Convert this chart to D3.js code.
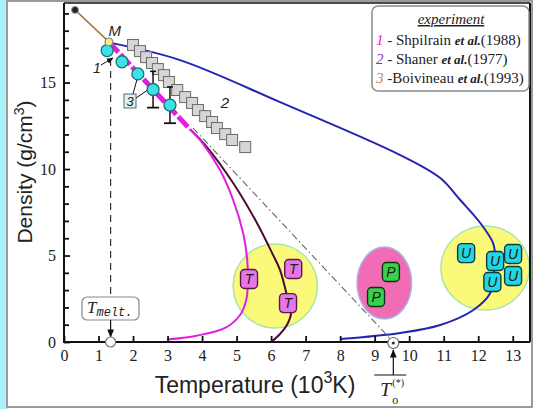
<!DOCTYPE html>
<html><head><meta charset="utf-8">
<script src="https://cdn.jsdelivr.net/npm/d3@7"></script>
<style>
html,body{margin:0;padding:0;background:#fff;}
svg{display:block;}
</style></head><body>
<svg id="chart" width="534" height="409"></svg>
<script>
// Uranium phase diagram: temperature (10^3 K) vs density (g/cm^3)
const xTickValues = [0,1,2,3,4,5,6,7,8,9,10,11,12,13];
const yTickValues = [0,5,10,15];
const yMinorTickValues = [1,2,3,4,6,7,8,9,11,12,13,14,16,17,18,19];

const solidPoint = [0.32, 19.2];
const meltPoint = [1.3, 17.35];
const meltTemperature = 1.35;
const starTemperature = 9.54;

// binodal curves
const blueBinodal = [[1.39,17.28],[3.36,16.30],[6.26,13.87],[9.74,10.81],[10.90,9.48],[11.48,8.21],
  [12.06,6.88],[12.43,5.72],[12.49,4.97],[12.46,4.05],[12.35,2.83],[11.86,1.85],[10.90,0.98],[9.74,0.52],[8.00,0.17]];
const liquidBranch = [[1.3,17.35],[3.65,12.3]];
const magentaBinodal = [[3.65,12.3],[3.94,11.68],[4.52,9.94],[4.90,8.21],[5.19,6.30],[5.30,4.91],[5.33,3.58],
  [5.28,2.43],[5.10,1.56],[4.67,0.81],[3.80,0.35],[3.00,0.15]];
const darkBinodal = [[3.65,12.3],[4.14,11.27],[4.90,9.19],[5.59,6.88],[6.03,5.14],[6.26,4.16],[6.49,2.43],
  [6.58,1.70],[6.44,0.92],[6.25,0.45],[6.03,0.05]];
const dashDotLine = [[3.74,12.37],[starTemperature,0]];

// experiments
const expShpilrain = [[1.25,16.85],[1.68,16.2],[2.14,15.5],[2.58,14.6],[3.07,13.7]];
const expShpilrainError = [0,0,0,1.05,1.05];
const expShaner = [[2.00,17.17],[2.20,16.82],[2.38,16.47],[2.55,16.13],[2.72,15.78],[2.90,15.43],[3.04,15.03],
  [3.28,14.57],[3.51,14.16],[3.71,13.82],[3.88,13.41],[4.09,13.06],[4.29,12.72],[4.43,12.37],[4.67,12.02],[4.87,11.68],[5.25,11.27]];

// critical point estimates
const criticalT = [[5.36,3.64],[6.64,4.22],[6.49,2.25]];
const criticalP = [[9.47,4.05],[9.04,2.6]];
const criticalU = [[11.65,5.14],[12.49,4.68],[13.01,5.09],[12.41,3.47],[13.01,3.82]];
// regions: [T centre, rho centre, T half-width, rho half-height]
const regionT = [6.12,3.24,1.22,2.43];
const regionP = [9.28,3.41,0.79,2.08];
const regionU = [12.2,4.28,1.28,2.43];

const legendTitle = "experiment";
const legendRows = [
  {num:"1", author:" - Shpilrain ", year:"(1988)"},
  {num:"2", author:" - Shaner  ", year:"(1977)"},
  {num:"3", author:" -Boivineau ", year:"(1993)"}
];

const SERIF = "'Liberation Serif','Times New Roman',serif";
const SANS = "'Liberation Sans',Arial,sans-serif";
const MONO = "'Liberation Mono','Courier New',monospace";

const svg = d3.select("#chart");
const W = 534, H = 409;
const plot = {left:64, right:530, top:3, bottom:342};
const x = d3.scaleLinear().domain([0,13.5]).range([plot.left, plot.right]);
const y = d3.scaleLinear().domain([0,19.6]).range([plot.bottom, plot.top]);

// page frame
svg.append("rect").attr("x",0).attr("y",0).attr("width",W).attr("height",H).attr("fill","#fff");
svg.append("rect").attr("x",0).attr("y",0).attr("width",8).attr("height",H).attr("fill","#a9f1f9");
svg.append("rect").attr("x",7).attr("y",1).attr("width",525).attr("height",406)
  .attr("fill","#fff").attr("stroke","#9a9a9a").attr("stroke-width",2);

const defs = svg.append("defs");
defs.append("clipPath").attr("id","plotClip").append("rect")
  .attr("x",plot.left).attr("y",plot.top).attr("width",plot.right-plot.left).attr("height",plot.bottom-plot.top);
defs.append("marker").attr("id","arrowHead").attr("viewBox","0 0 10 10").attr("refX",9).attr("refY",5)
  .attr("markerWidth",7).attr("markerHeight",7).attr("orient","auto")
  .append("path").attr("d","M0,1 L10,5 L0,9 Z").attr("fill","#111");

const g = svg.append("g").attr("clip-path","url(#plotClip)");

// regions of critical point estimates
const regions = [
  {r:regionT, fill:"#fbf97a", stroke:"#a8e6a8"},
  {r:regionP, fill:"#f06cb4", stroke:"#a8b4e4"},
  {r:regionU, fill:"#fbf97a", stroke:"#a8e6a8"}
];
regions.forEach(d => {
  g.append("ellipse").attr("cx",x(d.r[0])).attr("cy",y(d.r[1]))
    .attr("rx",x(d.r[0]+d.r[2])-x(d.r[0])).attr("ry",y(d.r[1])-y(d.r[1]+d.r[3]))
    .attr("fill",d.fill).attr("stroke",d.stroke).attr("stroke-width",1.5);
});

const line = d3.line().x(d=>x(d[0])).y(d=>y(d[1]));
const smooth = d3.line().x(d=>x(d[0])).y(d=>y(d[1])).curve(d3.curveCatmullRom.alpha(0.5));

// solid branch up to the melting point
g.append("path").attr("d",line([solidPoint, meltPoint])).attr("fill","none")
  .attr("stroke","#a8783c").attr("stroke-width",1.5);

// melting temperature guide
g.append("line").attr("x1",x(meltTemperature)).attr("x2",x(meltTemperature))
  .attr("y1",y(meltPoint[1])+5).attr("y2",296)
  .attr("stroke","#333").attr("stroke-width",1.2).attr("stroke-dasharray","7,5");

g.append("path").attr("d",smooth(blueBinodal)).attr("fill","none").attr("stroke","#2424b4").attr("stroke-width",2);
g.append("path").attr("d",line(dashDotLine)).attr("fill","none").attr("stroke","#666")
  .attr("stroke-width",1.1).attr("stroke-dasharray","7,3,1.5,3");
g.append("path").attr("d",smooth(darkBinodal)).attr("fill","none").attr("stroke","#4a0c34").attr("stroke-width",2);
g.append("path").attr("d",smooth(magentaBinodal)).attr("fill","none").attr("stroke","#e21ee2").attr("stroke-width",2);
g.append("path").attr("d",line(liquidBranch)).attr("fill","none").attr("stroke","#e21ee2")
  .attr("stroke-width",5).attr("stroke-dasharray","14,3");

// Shaner et al. points
g.selectAll("rect.shaner").data(expShaner).enter().append("rect").attr("class","shaner")
  .attr("x",d=>x(d[0])-5.5).attr("y",d=>y(d[1])-5.5).attr("width",11).attr("height",11)
  .attr("fill","#d6d6d6").attr("stroke","#6a6a6a").attr("stroke-width",1);

// error bars
expShpilrain.forEach((d,i) => {
  const e = expShpilrainError[i];
  if (!e) return;
  const cx = x(d[0]);
  g.append("line").attr("x1",cx).attr("x2",cx).attr("y1",y(d[1]+e)).attr("y2",y(d[1]-e))
    .attr("stroke","#111").attr("stroke-width",1.5);
  g.append("line").attr("x1",cx-3).attr("x2",cx+3).attr("y1",y(d[1]+e)).attr("y2",y(d[1]+e))
    .attr("stroke","#111").attr("stroke-width",1.5);
  g.append("line").attr("x1",cx-6).attr("x2",cx+6).attr("y1",y(d[1]-e)).attr("y2",y(d[1]-e))
    .attr("stroke","#111").attr("stroke-width",1.8);
});
g.selectAll("circle.shp").data(expShpilrain).enter().append("circle").attr("class","shp")
  .attr("cx",d=>x(d[0])).attr("cy",d=>y(d[1])).attr("r",6)
  .attr("fill","#3ee2e6").attr("stroke","#1d6e7c").attr("stroke-width",1.3);

// end points
g.append("circle").attr("cx",x(solidPoint[0])).attr("cy",y(solidPoint[1])).attr("r",3.5)
  .attr("fill","#222").attr("stroke","#999").attr("stroke-width",1);
g.append("circle").attr("cx",x(meltPoint[0])).attr("cy",y(meltPoint[1])).attr("r",4)
  .attr("fill","#f4f080").attr("stroke","#777").attr("stroke-width",1);

// critical point boxes
function letterBoxes(data, letter, fill, stroke) {
  const b = g.append("g");
  data.forEach(d => {
    const cx = x(d[0]), cy = y(d[1]);
    b.append("rect").attr("x",cx-8.5).attr("y",cy-9.5).attr("width",17).attr("height",19).attr("rx",4)
      .attr("fill",fill).attr("stroke",stroke).attr("stroke-width",1.4);
    b.append("text").attr("x",cx).attr("y",cy+5).attr("text-anchor","middle")
      .attr("font-family",SANS).attr("font-style","italic").attr("font-size",14)
      .attr("fill","#1a1a1a").text(letter);
  });
}
letterBoxes(criticalT, "T", "#e676e6", "#5a1a4a");
letterBoxes(criticalP, "P", "#38d24a", "#123016");
letterBoxes(criticalU, "U", "#22d6e2", "#0e3a40");

// annotations
svg.append("text").attr("x",x(meltPoint[0])+6).attr("y",y(meltPoint[1])-6).attr("text-anchor","middle")
  .attr("font-family",SANS).attr("font-style","italic").attr("font-size",15).attr("fill","#222").text("M");
svg.append("text").attr("x",97).attr("y",73).attr("text-anchor","middle")
  .attr("font-family",SANS).attr("font-style","italic").attr("font-size",14).attr("fill","#222").text("1");
svg.append("line").attr("x1",101).attr("y1",65).attr("x2",113).attr("y2",58)
  .attr("stroke","#111").attr("stroke-width",1).attr("marker-end","url(#arrowHead)");
svg.append("text").attr("x",225).attr("y",108).attr("text-anchor","middle")
  .attr("font-family",SANS).attr("font-style","italic").attr("font-size",15).attr("fill","#222").text("2");
svg.append("rect").attr("x",124).attr("y",94).attr("width",12).attr("height",14)
  .attr("fill","#dcf4ec").attr("stroke","#667").attr("stroke-width",1);
svg.append("text").attr("x",130).attr("y",106).attr("text-anchor","middle")
  .attr("font-family",SANS).attr("font-style","italic").attr("font-size",13).attr("fill","#222").text("3");
svg.append("line").attr("x1",133).attr("y1",94).attr("x2",x(expShpilrain[2][0])-1).attr("y2",y(expShpilrain[2][1])+6)
  .attr("stroke","#111").attr("stroke-width",1);
svg.append("line").attr("x1",136).attr("y1",98).attr("x2",x(expShpilrain[3][0])-6).attr("y2",y(expShpilrain[3][1])+1)
  .attr("stroke","#111").attr("stroke-width",1);

// melting temperature label
svg.append("rect").attr("x",82).attr("y",297).attr("width",57).attr("height",23).attr("rx",5)
  .attr("fill","#fff").attr("stroke","#888").attr("stroke-width",1.2);
const tm = svg.append("text").attr("x",87).attr("y",313).attr("fill","#222");
tm.append("tspan").attr("font-family",SERIF).attr("font-style","italic").attr("font-size",17).text("T");
tm.append("tspan").attr("font-family",MONO).attr("font-style","italic").attr("font-size",12).attr("dy",3).text("melt.");
svg.append("line").attr("x1",x(meltTemperature)).attr("x2",x(meltTemperature)).attr("y1",320).attr("y2",337)
  .attr("stroke","#111").attr("stroke-width",1.2).attr("marker-end","url(#arrowHead)");

// axes
const xAxis = d3.axisBottom(x).tickValues(xTickValues).tickSizeInner(-6).tickSizeOuter(0).tickPadding(8).tickFormat(d3.format("d"));
const gx = svg.append("g").attr("transform",`translate(0,${plot.bottom})`).call(xAxis);
gx.select(".domain").remove();
gx.selectAll(".tick line").attr("stroke","#111").attr("stroke-width",1.8);
gx.selectAll(".tick text").attr("font-family",SERIF).attr("font-size",16).attr("fill","#222");

const yMinor = d3.axisLeft(y).tickValues(yMinorTickValues).tickSizeInner(-5).tickSizeOuter(0).tickFormat("");
const gym = svg.append("g").attr("transform",`translate(${plot.left},0)`).call(yMinor);
gym.select(".domain").remove();
gym.selectAll(".tick line").attr("stroke","#111").attr("stroke-width",1.8);
const yAxis = d3.axisLeft(y).tickValues(yTickValues).tickSizeInner(-6).tickSizeOuter(0).tickPadding(8).tickFormat(d3.format("d"));
const gy = svg.append("g").attr("transform",`translate(${plot.left},0)`).call(yAxis);
gy.select(".domain").remove();
gy.selectAll(".tick line").attr("stroke","#111").attr("stroke-width",1.8);
gy.selectAll(".tick text").attr("font-family",SERIF).attr("font-size",16).attr("fill","#222");

// plot border
svg.append("line").attr("x1",plot.left).attr("x2",plot.right).attr("y1",plot.top).attr("y2",plot.top).attr("stroke","#111").attr("stroke-width",1.5);
svg.append("line").attr("x1",plot.right).attr("x2",plot.right).attr("y1",plot.top).attr("y2",plot.bottom).attr("stroke","#111").attr("stroke-width",2);
svg.append("line").attr("x1",plot.left).attr("x2",plot.left).attr("y1",plot.top).attr("y2",plot.bottom+1).attr("stroke","#111").attr("stroke-width",2);
svg.append("line").attr("x1",plot.left-1).attr("x2",plot.right).attr("y1",plot.bottom).attr("y2",plot.bottom).attr("stroke","#111").attr("stroke-width",2);

// markers on the temperature axis
svg.append("circle").attr("cx",x(meltTemperature)).attr("cy",y(0)).attr("r",5)
  .attr("fill","#fff").attr("stroke","#777").attr("stroke-width",1.2);
const ts = x(starTemperature);
svg.append("circle").attr("cx",ts).attr("cy",y(0)+1).attr("r",5.5)
  .attr("fill","#fff").attr("stroke","#666").attr("stroke-width",1.2);
svg.append("circle").attr("cx",ts).attr("cy",y(0)+1).attr("r",1.6).attr("fill","#333");
svg.append("line").attr("x1",ts).attr("x2",ts).attr("y1",375).attr("y2",350)
  .attr("stroke","#111").attr("stroke-width",1.2).attr("marker-end","url(#arrowHead)");
svg.append("line").attr("x1",ts-19).attr("x2",ts+13).attr("y1",375).attr("y2",375)
  .attr("stroke","#111").attr("stroke-width",1.2);
// T_o^(*) label: symbol with stacked sub/superscript
svg.append("text").attr("x",ts-13).attr("y",396).attr("fill","#222").attr("font-family",SERIF)
  .attr("font-style","italic").attr("font-size",19).text("T");
svg.append("text").attr("x",ts-1).attr("y",386).attr("fill","#222").attr("font-family",SERIF)
  .attr("font-size",10).text("(*)");
svg.append("text").attr("x",ts-1).attr("y",404).attr("fill","#222").attr("font-family",SERIF)
  .attr("font-size",12).text("o");

// axis titles
const xt = svg.append("text").attr("x",255).attr("y",393).attr("text-anchor","middle")
  .attr("font-family",SANS).attr("font-size",23).attr("fill","#222");
xt.append("tspan").text("Temperature (10");
xt.append("tspan").attr("font-size",16).attr("dy",-10).text("3");
xt.append("tspan").attr("dy",10).text("K)");
const yt = svg.append("text").attr("transform","translate(32,172) rotate(-90)").attr("text-anchor","middle")
  .attr("font-family",SANS).attr("font-size",21).attr("fill","#222");
yt.append("tspan").text("Density (g/cm");
yt.append("tspan").attr("font-size",14).attr("dy",-8).text("3");
yt.append("tspan").attr("dy",8).text(")");

// legend
const lg = svg.append("g");
lg.append("rect").attr("x",372).attr("y",6).attr("width",157).attr("height",85).attr("rx",6)
  .attr("fill","#fff").attr("stroke","#8a8a8a").attr("stroke-width",1.5);
lg.append("text").attr("x",451).attr("y",24).attr("text-anchor","middle")
  .attr("font-family",SERIF).attr("font-style","italic").attr("font-size",15)
  .attr("text-decoration","underline").attr("fill","#222").text(legendTitle);
const numColors = ["#e020e0","#8a2cae","#c8843a"];
legendRows.forEach((r,i) => {
  const t = lg.append("text").attr("x",376).attr("y",45+i*19).attr("font-family",SERIF).attr("font-size",15).attr("fill","#222");
  t.append("tspan").attr("font-style","italic").attr("fill",numColors[i]).text(r.num);
  t.append("tspan").text(r.author);
  t.append("tspan").attr("font-style","italic").attr("font-weight","bold").attr("font-size",13).text("et al.");
  t.append("tspan").text(r.year);
});
</script>
</body></html>
